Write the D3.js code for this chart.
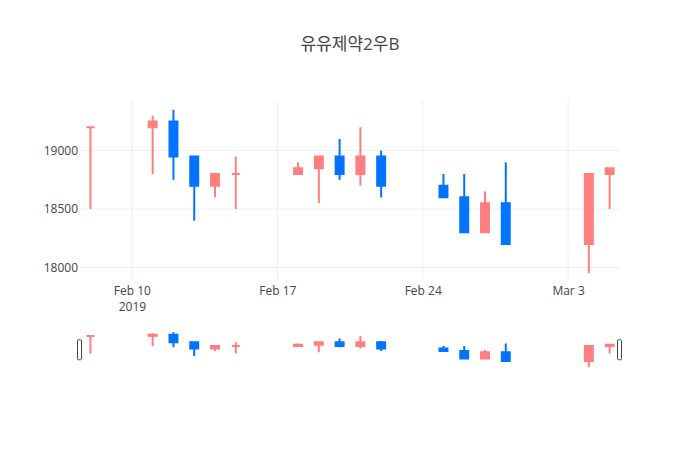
<!DOCTYPE html>
<html>
<head>
<meta charset="utf-8">
<script src="https://cdn.jsdelivr.net/npm/d3@7"></script>
<style>
  html, body { margin: 0; padding: 0; background: #fff; }
  svg text { font-family: "Open Sans", "Noto Sans CJK KR", sans-serif; }
</style>
</head>
<body>
<svg id="chart" width="700" height="450"></svg>
<script>
const title = "유유제약2우B";
const dates = ["2019-02-08","2019-02-11","2019-02-12","2019-02-13","2019-02-14","2019-02-15",
               "2019-02-18","2019-02-19","2019-02-20","2019-02-21","2019-02-22",
               "2019-02-25","2019-02-26","2019-02-27","2019-02-28",
               "2019-03-04","2019-03-05"];
const opens  = [19200,19200,19250,18950,18700,18800,18800,18850,18950,18800,18950,18700,18600,18300,18550,18200,18800];
const highs  = [19200,19300,19350,18950,18800,18950,18900,18950,19100,19200,19000,18800,18800,18650,18900,18800,18850];
const lows   = [18500,18800,18750,18400,18600,18500,18800,18550,18750,18700,18600,18600,18300,18300,18200,17950,18500];
const closes = [19200,19250,18950,18700,18800,18800,18850,18950,18800,18950,18700,18600,18300,18550,18200,18800,18850];
const yTicks = [18000, 18500, 19000];
const xTickDates = ["2019-02-10","2019-02-17","2019-02-24","2019-03-03"];
const xTickLabels = ["Feb 10","Feb 17","Feb 24","Mar 3"];
const xTickYearLabel = "2019";

const colorUp = "#ff7f7f";
const colorDown = "#0074ff";

const parse = d3.utcParse("%Y-%m-%d");
const data = dates.map((d, i) => ({
  date: parse(d), o: opens[i], h: highs[i], l: lows[i], c: closes[i]
}));

const svg = d3.select("#chart");
const W = 700;
const plotL = 80, plotR = 620;
const mainTop = 100, mainBottom = 283;
const sliderTop = 329.5, sliderBottom = 370;
const DAY = 864e5;

const x = d3.scaleUtc()
  .domain([new Date(+data[0].date - DAY / 2), new Date(+data[data.length - 1].date + DAY / 2)])
  .range([plotL, plotR]);

const lo = d3.min(lows), hi = d3.max(highs), span = hi - lo;
const y = d3.scaleLinear().domain([lo - span * 0.06, hi + span * 0.06]).range([mainBottom, mainTop]);
const ys = d3.scaleLinear().domain([lo - span * 0.075, hi + span * 0.075]).range([sliderBottom, sliderTop]);

const bodyW = 0.48 * (x(new Date(+data[0].date + DAY)) - x(data[0].date));

// gridlines
const grid = svg.append("g");
grid.selectAll("line.h").data(yTicks).join("line")
  .attr("x1", plotL).attr("x2", plotR)
  .attr("y1", d => y(d)).attr("y2", d => y(d))
  .attr("stroke", "#eee").attr("stroke-width", 1);
grid.selectAll("line.v").data(xTickDates.map(parse)).join("line")
  .attr("x1", d => x(d)).attr("x2", d => x(d))
  .attr("y1", mainTop).attr("y2", mainBottom - 2)
  .attr("stroke", "#eee").attr("stroke-width", 1);

// y axis
const yAxis = svg.append("g").attr("transform", `translate(${plotL - 2},0)`)
  .call(d3.axisLeft(y).tickValues(yTicks).tickSize(0).tickPadding(0).tickFormat(d3.format("d")));
yAxis.select(".domain").remove();
yAxis.selectAll("text").attr("fill", "#444").style("font-size", "12px");

// x axis
const xAxis = svg.append("g").attr("transform", `translate(0,${mainBottom})`)
  .call(d3.axisBottom(x).tickValues(xTickDates.map(parse)).tickSize(0).tickPadding(3)
    .tickFormat((d, i) => xTickLabels[i]));
xAxis.select(".domain").remove();
xAxis.selectAll("text").attr("fill", "#444").style("font-size", "12px");
xAxis.selectAll(".tick").filter((d, i) => i === 0).append("text")
  .attr("y", 19).attr("dy", "0.71em").attr("text-anchor", "middle")
  .attr("fill", "#444").style("font-size", "12px").text(xTickYearLabel);

function drawCandles(g, ys) {
  const c = g.selectAll("g.candle").data(data).join("g").attr("class", "candle");
  const col = d => d.c >= d.o ? colorUp : colorDown;
  c.append("line")
    .attr("x1", d => x(d.date)).attr("x2", d => x(d.date))
    .attr("y1", d => ys(d.h)).attr("y2", d => ys(d.l))
    .attr("stroke", col).attr("stroke-width", 2);
  c.append("path")
    .attr("d", d => {
      const x0 = x(d.date) - bodyW / 2 + 1, x1 = x(d.date) + bodyW / 2 - 1;
      const y0 = ys(Math.max(d.o, d.c)), y1 = ys(Math.min(d.o, d.c));
      return `M${x0},${y0}H${x1}V${y1}H${x0}Z`;
    })
    .attr("fill", col).attr("stroke", col).attr("stroke-width", 2)
    .attr("stroke-linejoin", "miter");
}

const main = svg.append("g");
drawCandles(main, y);

// range slider
const slider = svg.append("g");
drawCandles(slider, ys);
const sliderMid = (sliderTop + sliderBottom) / 2;
[plotL, plotR].forEach(px => {
  slider.append("rect")
    .attr("x", px - 2.5).attr("y", sliderMid - 10)
    .attr("width", 4).attr("height", 20).attr("rx", 1)
    .attr("fill", "#fff").attr("stroke", "#444").attr("stroke-width", 1);
});

// title
svg.append("text").attr("x", W / 2).attr("y", 50)
  .attr("text-anchor", "middle").attr("fill", "#444")
  .style("font-size", "17px").text(title);
</script>
</body>
</html>
